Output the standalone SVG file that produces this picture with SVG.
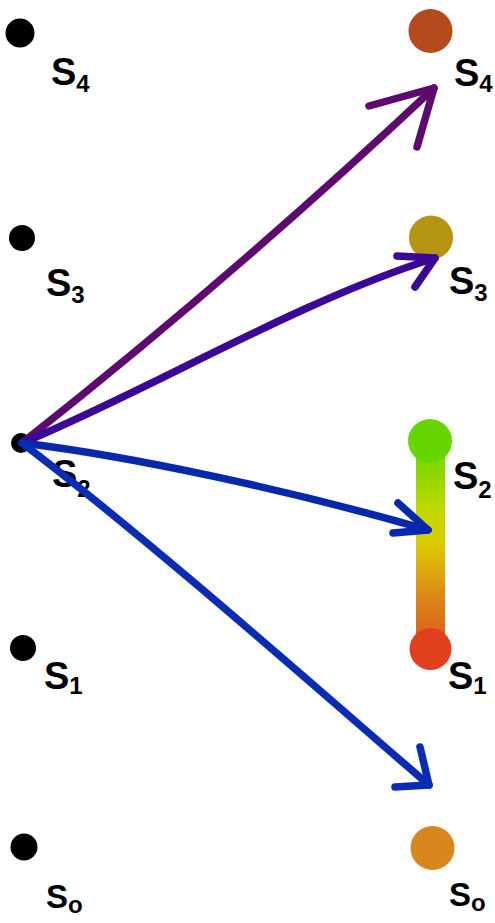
<svg xmlns="http://www.w3.org/2000/svg" width="495" height="923" viewBox="0 0 495 923">
<defs>
<linearGradient id="bar" x1="0" y1="420" x2="0" y2="670" gradientUnits="userSpaceOnUse">
<stop offset="0" stop-color="#66d600"/>
<stop offset="0.2" stop-color="#86d800"/>
<stop offset="0.36" stop-color="#c0d800"/>
<stop offset="0.5" stop-color="#dcca00"/>
<stop offset="0.7" stop-color="#dc8a1a"/>
<stop offset="1" stop-color="#e0401e"/>
</linearGradient>
<style>
.dot{fill:#000}
.lbl{font-family:"Liberation Sans","DejaVu Sans",sans-serif;font-weight:bold;fill:#000}
.s{font-size:38px}
.d{font-size:24px}
.arr{fill:none;stroke-width:7.5;stroke-linecap:round;stroke-linejoin:round}
</style>
</defs>
<rect width="495" height="923" fill="#fff"/>
<g id="left-s4"><circle class="dot" cx="20" cy="33" r="14.5"/><text class="lbl" x="51" y="85"><tspan class="s">S</tspan><tspan class="d" dy="7">4</tspan></text></g>
<g id="left-s3"><circle class="dot" cx="22" cy="238" r="13"/><text class="lbl" x="46" y="296"><tspan class="s">S</tspan><tspan class="d" dy="7">3</tspan></text></g>
<g id="left-s2"><circle class="dot" cx="21" cy="443" r="10"/><text class="lbl" x="52" y="487"><tspan class="s">S</tspan><tspan class="d" dy="10">2</tspan></text></g>
<g id="left-s1"><circle class="dot" cx="23" cy="648" r="13"/><text class="lbl" x="44" y="689"><tspan class="s">S</tspan><tspan class="d" dy="5">1</tspan></text></g>
<g id="left-s0"><circle class="dot" cx="24" cy="847" r="13.5"/><text class="lbl" x="46" y="908"><tspan class="s" style="font-size:33px">S</tspan><tspan class="d" dy="5">o</tspan></text></g>

<g id="right-s4"><circle cx="430.5" cy="31" r="22" fill="#b54a1d"/><text class="lbl" x="454" y="86"><tspan class="s">S</tspan><tspan class="d" dy="6">4</tspan></text></g>
<g id="right-s3"><circle cx="431" cy="237.5" r="22" fill="#b59414"/><text class="lbl" x="449" y="294"><tspan class="s">S</tspan><tspan class="d" dy="7">3</tspan></text></g>
<g id="right-s2s1">
<rect x="416" y="441" width="29" height="208" fill="url(#bar)"/>
<circle cx="430" cy="441" r="22" fill="#66d600"/>
<circle cx="430.5" cy="649" r="21" fill="#e0401e"/>
<text class="lbl" x="453" y="489"><tspan class="s">S</tspan><tspan class="d" dy="9">2</tspan></text>
<text class="lbl" x="448" y="689"><tspan class="s">S</tspan><tspan class="d" dy="5">1</tspan></text>
</g>
<g id="right-s0"><circle cx="432.5" cy="848" r="22" fill="#d8861e"/><text class="lbl" x="449" y="906"><tspan class="s" style="font-size:33px">S</tspan><tspan class="d" dy="5">o</tspan></text></g>

<g id="connectors">
<path class="arr" stroke="#5c0a6e" d="M22,443 Q235,275 434,88"/>
<path class="arr" stroke="#5c0a6e" d="M369,106 L434,88 L417,147"/>
<path class="arr" stroke="#3a0896" d="M22,443 C150,390 300,300 435,258"/>
<path class="arr" stroke="#3a0896" d="M397,256 L435,258 L415,287"/>
<path class="arr" stroke="#0628ad" d="M22,443 C130,456 290,490 428,530"/>
<path class="arr" stroke="#0628ad" d="M398,503 L428,530 L393,533"/>
<path class="arr" stroke="#0a2cb5" d="M22,443 C150,540 330,700 429,785"/>
<path class="arr" stroke="#0a2cb5" d="M420,747 L429,785 L395,787"/>
</g>
</svg>
